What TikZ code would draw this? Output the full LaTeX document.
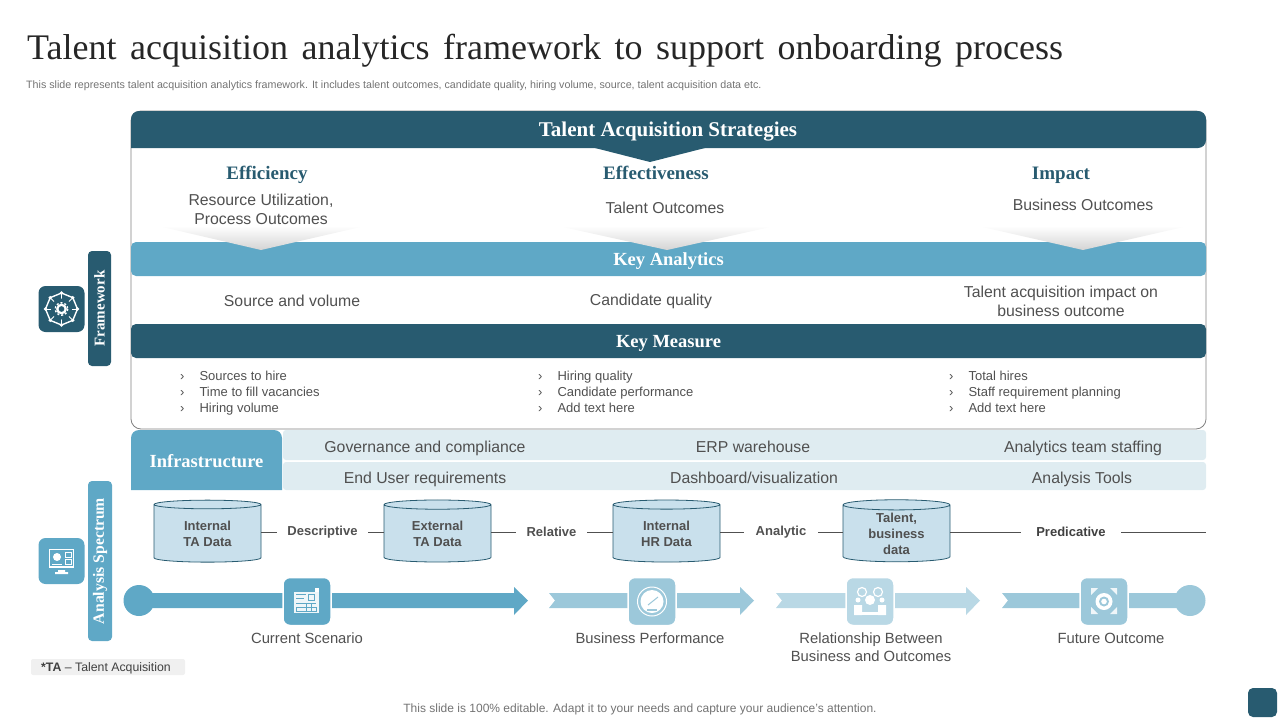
\documentclass[tikz,border=0pt]{standalone}
\usepackage{fontspec}
\setmainfont{Liberation Serif}
\setsansfont{Liberation Sans}
\newfontfamily\titlefont[WordSpace=1.5]{Liberation Serif}
\usetikzlibrary{arrows, positioning, calc, shapes.geometric, shadings}
\definecolor{darkTeal}{HTML}{285B70}
\definecolor{midBlue}{HTML}{5FA8C6}
\definecolor{softBlue}{HTML}{9CC8DA}
\definecolor{paleBlue}{HTML}{B9D8E5}
\definecolor{rowBlue}{HTML}{DFECF1}
\definecolor{cylBlue}{HTML}{C9E0EC}
\definecolor{bodyGray}{HTML}{505050}
\tikzset{
  bandText/.style={font=\fontsize{18.5}{22}\bfseries\selectfont,text=white,text height=17pt,text depth=4pt,inner sep=0pt},
  headText/.style={font=\fontsize{19}{22}\bfseries\selectfont,text=darkTeal,text height=17pt,text depth=4pt,inner sep=0pt},
  bodyText/.style={font=\sffamily\fontsize{15.8}{19}\selectfont,text=bodyGray,align=center,inner sep=0pt},
  labelText/.style={font=\sffamily\fontsize{14.8}{17.5}\selectfont,text=bodyGray,align=center,inner sep=0pt},
  listText/.style={font=\sffamily\fontsize{13}{16}\selectfont,text=bodyGray,align=left,inner sep=0pt,anchor=west},
  band/.style={rounded corners=5pt,minimum height=34pt,inner sep=0pt},
  strip/.style={fill=#1,rounded corners=4pt,inner sep=0pt},
  iconBox/.style={fill=#1,rounded corners=7pt,minimum width=46pt,minimum height=46pt,inner sep=0pt},
  rowBox/.style={fill=rowBlue,rounded corners=3pt,inner sep=0pt},
  dataCyl/.style={cylinder,shape border rotate=90,aspect=0.18,draw=darkTeal,line width=0.8pt,
    cylinder uses custom fill,cylinder body fill=cylBlue,cylinder end fill=cylBlue,
    minimum width=107pt,minimum height=62pt,inner sep=0pt,align=center,
    font=\sffamily\fontsize{13}{16}\bfseries\selectfont,text=bodyGray},
  spanText/.style={font=\sffamily\fontsize{13}{16}\bfseries\selectfont,text=bodyGray,inner sep=0pt},
  spanLine/.style={draw=bodyGray,line width=0.6pt},
  drop/.style={top color=white,bottom color=black!17,draw=none},
  iconLine/.style={draw=white,line width=1pt}
}
\begin{document}
\begin{tikzpicture}[x=1pt,y=-1pt]
\useasboundingbox (0,0) rectangle (1280,720);

\node[anchor=west,inner sep=0pt,text=black!85,font=\fontsize{36}{42}\titlefont] (nTitle) at (27,51) {Talent acquisition analytics framework to support onboarding process};
\node[anchor=west,inner sep=0pt,text=black!55,font=\sffamily\fontsize{10.7}{12}\selectfont] (nSub) at (26,85.5) {This slide represents talent acquisition analytics framework. It includes talent outcomes, candidate quality, hiring volume, source, talent acquisition data etc.};

% outer frame
\node[draw=black!50,line width=0.8pt,rounded corners=10pt,minimum width=1075pt,minimum height=318pt] (nFrame) at (668.5,270) {};

% strategies band
\fill[darkTeal] (131,148) [rounded corners=8pt] -- (131,111) -- (1206,111) -- (1206,148) [sharp corners] -- cycle;
\fill[darkTeal] (595,148) -- (650,162) -- (705,148) -- cycle;
\node[bandText,font=\fontsize{21}{24}\bfseries\selectfont] (nStrat) at (668,130) {Talent Acquisition Strategies};

\node[headText] (nEff) at (267,173) {Efficiency};
\node[headText] (nEffect) at (656,173) {Effectiveness};
\node[headText] (nImpact) at (1061,173) {Impact};
\node[bodyText] (nResource) at (261,209) {Resource Utilization,\\Process Outcomes};
\node[bodyText] (nTalent) at (665,208) {Talent Outcomes};
\node[bodyText] (nBusiness) at (1083,205) {Business Outcomes};

% key analytics
\node[band,fill=midBlue,minimum width=1075pt] (nAnalytics) at (668.5,259) {};
\shade[drop] (158,226) -- (365,226) -- (261,250) -- cycle;
\shade[drop] (558,226) -- (775,226) -- (667,250) -- cycle;
\shade[drop] (978,226) -- (1188,226) -- (1083,250) -- cycle;
\node[bandText] at (nAnalytics) {Key Analytics};

\node[bodyText] (nSource) at (292,301) {Source and volume};
\node[bodyText] (nQuality) at (651,301) {Candidate quality};
\node[bodyText] (nTaImpact) at (1061,301) {Talent acquisition impact on\\business outcome};

% key measure
\node[band,fill=darkTeal,minimum width=1075pt] (nMeasure) at (668.5,341) {};
\node[bandText] at (nMeasure) {Key Measure};

\node[listText] (nListA) at (180,393) {›\hspace{15pt}Sources to hire\\›\hspace{15pt}Time to fill vacancies\\›\hspace{15pt}Hiring volume};
\node[listText] (nListB) at (538,391.5) {›\hspace{15pt}Hiring quality\\›\hspace{15pt}Candidate performance\\›\hspace{15pt}Add text here};
\node[listText] (nListC) at (949,391.5) {›\hspace{15pt}Total hires\\›\hspace{15pt}Staff requirement planning\\›\hspace{15pt}Add text here};

% infrastructure
\node[rowBox,minimum width=923pt,minimum height=30pt] (nRowA) at (744.5,445) {};
\node[rowBox,minimum width=923pt,minimum height=28pt] (nRowB) at (744.5,476) {};
\fill[midBlue] (131,490) [rounded corners=8pt] -- (131,430) -- (282,430) [sharp corners] -- (282,490) -- cycle;
\node[bandText] (nInfra) at (206.5,460.5) {Infrastructure};
\node[bodyText] (nGov) at (425,448) {Governance and compliance};
\node[bodyText] (nErp) at (753,447) {ERP warehouse};
\node[bodyText] (nTeam) at (1083,448) {Analytics team staffing};
\node[bodyText] (nUser) at (425,479) {End User requirements};
\node[bodyText] (nDash) at (754,478) {Dashboard/visualization};
\node[bodyText] (nTools) at (1082,479) {Analysis Tools};

% data stores and spectrum
\node[dataCyl] (nCylA) at (207.5,533.5) {Internal\\TA Data};
\node[dataCyl] (nCylB) at (437.5,533.5) {External\\TA Data};
\node[dataCyl] (nCylC) at (666.5,533.5) {Internal\\HR Data};
\node[dataCyl] (nCylD) at (896.5,533.5) {Talent,\\business\\data};
\node[spanText,minimum width=91pt] (nDesc) at (322.5,532) {Descriptive};
\node[spanText,minimum width=71pt] (nRel) at (551.5,532) {Relative};
\node[spanText,minimum width=74pt] (nAna) at (781,532) {Analytic};
\node[spanText,minimum width=100pt,text=black!75] (nPred) at (1071,532) {Predicative};
\coordinate (nEnd) at (1206,532);
\draw[spanLine] (nCylA.east |- nDesc) -- (nDesc.west);
\draw[spanLine] (nDesc.east) -- (nCylB.west |- nDesc);
\draw[spanLine] (nCylB.east |- nRel) -- (nRel.west);
\draw[spanLine] (nRel.east) -- (nCylC.west |- nRel);
\draw[spanLine] (nCylC.east |- nAna) -- (nAna.west);
\draw[spanLine] (nAna.east) -- (nCylD.west |- nAna);
\draw[spanLine] (nCylD.east |- nPred) -- (nPred.west);
\draw[spanLine] (nPred.east) -- (nEnd);

% side strips
\node[strip=darkTeal,minimum width=23pt,minimum height=115pt] (nFrameStrip) at (99.5,308.5) {};
\node[rotate=90,text=white,font=\fontsize{15}{18}\bfseries\selectfont] at (nFrameStrip) {Framework};
\node[strip=midBlue,minimum width=24pt,minimum height=160pt] (nSpecStrip) at (100,561) {};
\node[rotate=90,text=white,font=\fontsize{15.7}{18}\bfseries\selectfont] at (nSpecStrip) {Analysis Spectrum};
\node[iconBox=darkTeal] (nIconFrame) at (61.5,309) {};
\node[iconBox=midBlue] (nIconSpec) at (61.5,561) {};

% framework icon
\draw[iconLine,line width=1.4pt] (nIconFrame) +(0:16) -- +(45:16) -- +(90:16) -- +(135:16) -- +(180:16) -- +(225:16) -- +(270:16) -- +(315:16) -- cycle;
\draw[iconLine] (nIconFrame) +(0:16) -- +(180:16);
\draw[iconLine] (nIconFrame) +(90:16) -- +(270:16);
\draw[iconLine] (nIconFrame) +(45:16) -- +(225:16);
\draw[iconLine] (nIconFrame) +(135:16) -- +(315:16);
\fill[white] (nIconFrame) +(0:16) circle (1.8) +(45:16) circle (1.8) +(90:16) circle (1.8) +(135:16) circle (1.8) +(180:16) circle (1.8) +(225:16) circle (1.8) +(270:16) circle (1.8) +(315:16) circle (1.8);
\fill[darkTeal] (nIconFrame) circle (10.5);
\draw[white,line width=2.2pt] (nIconFrame) circle (4.2);
\draw[white,dash pattern=on 2pt off 2pt,line width=1.4pt] (nIconFrame) circle (6.2);

% monitor icon
\draw[white,line width=1.2pt] (49.5,549.5) rectangle (73.5,567);
\fill[white] (58,570) rectangle (65,572) (55,572) rectangle (68,574);
\fill[white] (57,557) circle (4);
\draw[white,line width=0.8pt] (65,552) rectangle (71,557) (65,559) rectangle (71,564);
\fill[white] (52,564) rectangle (62,565);

% timeline
\fill[midBlue] (139,600.5) circle (15.5);
\fill[midBlue] (139,593) -- (514,593) -- (514,587) -- (528,600.5) -- (514,615) -- (514,608) -- (139,608) -- cycle;
\fill[softBlue] (549,593) -- (740,593) -- (740,587) -- (754,600.5) -- (740,615) -- (740,608) -- (549,608) -- (555,600.5) -- cycle;
\fill[paleBlue] (776,593) -- (966,593) -- (966,587) -- (980,600.5) -- (966,615) -- (966,608) -- (776,608) -- (782,600.5) -- cycle;
\fill[softBlue] (1002,593) -- (1190,593) -- (1190,608) -- (1002,608) -- (1008,600.5) -- cycle;
\fill[softBlue] (1190,600.5) circle (15.5);

\node[iconBox=midBlue,draw=white,line width=1.5pt,minimum width=48pt,minimum height=48pt] (nCurrent) at (307,601.5) {};
\node[iconBox=softBlue,draw=white,line width=1.5pt,minimum width=48pt,minimum height=48pt] (nPerf) at (652,601.5) {};
\node[iconBox=paleBlue,draw=white,line width=1.5pt,minimum width=48pt,minimum height=48pt] (nRelation) at (870,601.5) {};
\node[iconBox=softBlue,draw=white,line width=1.5pt,minimum width=48pt,minimum height=48pt] (nFuture) at (1104,601.5) {};

% floor plan icon
\fill[white,opacity=0.9] (294,592) rectangle (319,613);
\fill[white] (315,588) rectangle (319,592);
\draw[midBlue,line width=0.6pt] (296,594) -- (306,594) (296,598) -- (304,598) (308,594) rectangle (314,600) (296,603) -- (316,603) (306,603) -- (306,611) (296,611) rectangle (316,607) (311,603) -- (311,611);

% gauge icon
\draw[white,line width=1pt] (nPerf) circle (14.5);
\fill[white] (nPerf) circle (11.5);
\draw[softBlue,line width=1pt] (648,605) -- (658,597);
\fill[softBlue] (647,609) rectangle (657,611);

% relationship icon
\draw[white,line width=1.2pt] (862,592) circle (4.5) (878,592) circle (4.5);
\fill[white] (870,600) circle (5);
\fill[white] (858,600) circle (2.5) (882,600) circle (2.5);
\fill[white] (854,615) rectangle (862,605) (878,615) rectangle (886,605);
\fill[white] (862,612) rectangle (878,615);

% outcome icon
\fill[white] (nFuture) circle (8.5);
\fill[softBlue] (nFuture) circle (5);
\fill[white] (nFuture) circle (2.8);
\fill[white,opacity=0.85] (1091,588) -- (1098,588) -- (1091,595) -- cycle;
\fill[white,opacity=0.85] (1117,588) -- (1110,588) -- (1117,595) -- cycle;
\fill[white,opacity=0.85] (1091,614) -- (1098,614) -- (1091,607) -- cycle;
\fill[white,opacity=0.85] (1117,614) -- (1110,614) -- (1117,607) -- cycle;

\node[labelText] (nCurText) at (307,638) {Current Scenario};
\node[labelText] (nPerfText) at (650,638) {Business Performance};
\node[labelText] (nRelText) at (871,647) {Relationship Between\\Business and Outcomes};
\node[labelText] (nFutText) at (1111,638.5) {Future Outcome};

% footnote and footer
\node[fill=black!6,rounded corners=2pt,minimum width=154pt,minimum height=16pt,inner sep=0pt] (nNote) at (108,667) {};
\node[inner sep=0pt,text=black!75,font=\sffamily\fontsize{12.3}{14}\selectfont] at (106,668) {\textbf{*TA} -- Talent Acquisition};
\node[inner sep=0pt,text=black!55,font=\sffamily\fontsize{12}{14}\selectfont] (nFoot) at (640,709.5) {This slide is 100\% editable. Adapt it to your needs and capture your audience's attention.};
\node[fill=darkTeal,rounded corners=5pt,minimum width=29pt,minimum height=29pt,inner sep=0pt] (nCorner) at (1262.5,702.5) {};
\end{tikzpicture}
\end{document}
